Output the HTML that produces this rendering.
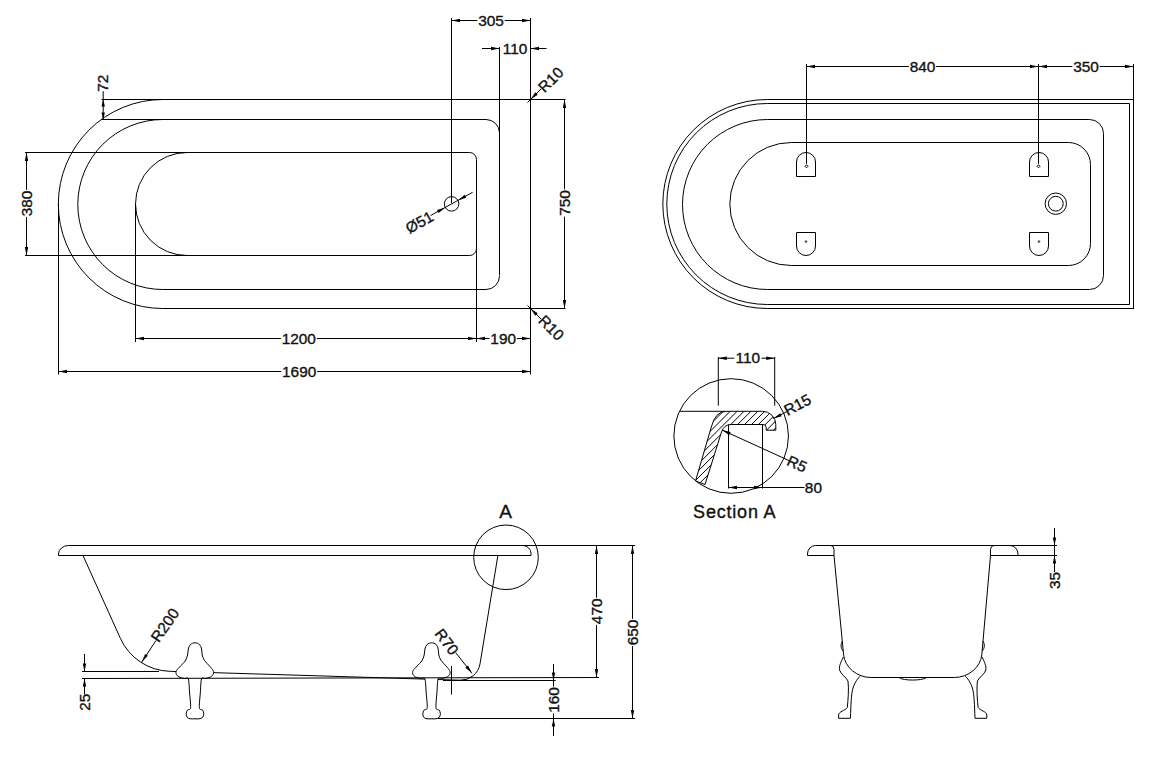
<!DOCTYPE html>
<html><head><meta charset="utf-8">
<style>
html,body{margin:0;padding:0;background:#fff;}
body{width:1157px;height:766px;overflow:hidden;}
svg{display:block;}
svg line, svg path, svg circle{stroke:#000;stroke-width:1;fill:none;}
svg path.f{fill:#000;stroke:none;}
svg text{font-family:"Liberation Sans", sans-serif;fill:#111;stroke:#111;stroke-width:0.35px;}
</style></head>
<body>
<svg width="1157" height="766" viewBox="0 0 1157 766">
<line x1="101.50" y1="99.50" x2="565.50" y2="99.50"/>
<path d="M162.8,99.5 A104.5,104.5 0 0 0 162.8,308.5" />
<line x1="162.80" y1="308.50" x2="565.50" y2="308.50"/>
<line x1="530.50" y1="18.00" x2="530.50" y2="374.50"/>
<line x1="101.50" y1="119.50" x2="486.00" y2="119.50"/>
<path d="M486,119.5 A13.5,13.5 0 0 1 499.5,133" />
<line x1="499.50" y1="47.00" x2="499.50" y2="275.50"/>
<path d="M499.5,276 A13.5,13.5 0 0 1 486,289.5" />
<line x1="162.80" y1="289.50" x2="486.00" y2="289.50"/>
<path d="M162.8,119.5 A85,85 0 0 0 162.8,289.5" />
<line x1="25.00" y1="152.50" x2="469.50" y2="152.50"/>
<path d="M469.5,152.5 A7,7 0 0 1 476.5,159.5" />
<line x1="476.50" y1="159.50" x2="476.50" y2="342.00"/>
<path d="M476.5,248.5 A7,7 0 0 1 469.5,255.5" />
<line x1="25.00" y1="255.50" x2="469.50" y2="255.50"/>
<path d="M187,152.5 A51.5,51.5 0 0 0 187,255.5" />
<line x1="135.50" y1="204.00" x2="135.50" y2="342.00"/>
<line x1="58.50" y1="204.00" x2="58.50" y2="374.50"/>
<circle cx="451.6" cy="203.9" r="7.25"/>
<line x1="451.50" y1="18.00" x2="451.50" y2="203.00"/>
<line x1="430.59" y1="215.50" x2="472.61" y2="192.30"/>
<path class="f" d="M445.25,207.40 L438.63,213.00 L436.99,210.02 Z"/>
<path class="f" d="M457.95,200.40 L464.57,194.80 L466.21,197.78 Z"/>
<text transform="translate(419.50,222.50) rotate(-28.9)" x="0" y="5.01" font-size="15.4" text-anchor="middle">&#216;51</text>
<line x1="451.50" y1="20.50" x2="477.36" y2="20.50"/>
<line x1="504.64" y1="20.50" x2="530.50" y2="20.50"/>
<path class="f" d="M451.50,20.50 L460.00,18.80 L460.00,22.20 Z"/>
<path class="f" d="M530.50,20.50 L522.00,22.20 L522.00,18.80 Z"/>
<text x="491.00" y="25.61" font-size="15.4" text-anchor="middle">305</text>
<line x1="482.00" y1="48.50" x2="499.50" y2="48.50"/>
<path class="f" d="M499.50,48.50 L491.00,50.20 L491.00,46.80 Z"/>
<line x1="546.50" y1="48.50" x2="530.50" y2="48.50"/>
<path class="f" d="M530.50,48.50 L539.00,46.80 L539.00,50.20 Z"/>
<text x="515.00" y="53.61" font-size="15.4" text-anchor="middle">110</text>
<line x1="527.50" y1="102.50" x2="531.00" y2="99.00"/>
<line x1="527.50" y1="305.50" x2="531.00" y2="309.00"/>
<line x1="530.50" y1="99.50" x2="541.00" y2="89.00"/>
<path class="f" d="M530.50,99.50 L535.31,92.29 L537.71,94.69 Z"/>
<text transform="translate(551.00,80.00) rotate(-45)" x="0" y="5.01" font-size="15.4" text-anchor="middle">R10</text>
<line x1="530.50" y1="308.50" x2="541.00" y2="319.00"/>
<path class="f" d="M530.50,308.50 L537.71,313.31 L535.31,315.71 Z"/>
<text transform="translate(551.00,328.00) rotate(45)" x="0" y="5.01" font-size="15.4" text-anchor="middle">R10</text>
<line x1="564.50" y1="99.50" x2="564.50" y2="189.36"/>
<line x1="564.50" y1="216.64" x2="564.50" y2="308.50"/>
<path class="f" d="M564.50,99.50 L566.20,108.00 L562.80,108.00 Z"/>
<path class="f" d="M564.50,308.50 L562.80,300.00 L566.20,300.00 Z"/>
<text transform="translate(564.50,203.00) rotate(-90)" x="0" y="5.01" font-size="15.4" text-anchor="middle">750</text>
<line x1="26.50" y1="152.50" x2="26.50" y2="189.86"/>
<line x1="26.50" y1="217.14" x2="26.50" y2="255.50"/>
<path class="f" d="M26.50,152.50 L28.20,161.00 L24.80,161.00 Z"/>
<path class="f" d="M26.50,255.50 L24.80,247.00 L28.20,247.00 Z"/>
<text transform="translate(26.50,203.50) rotate(-90)" x="0" y="5.01" font-size="15.4" text-anchor="middle">380</text>
<line x1="103.20" y1="91.20" x2="103.20" y2="119.50"/>
<path class="f" d="M103.20,99.50 L104.90,106.50 L101.50,106.50 Z"/>
<path class="f" d="M103.20,119.50 L101.50,112.50 L104.90,112.50 Z"/>
<text transform="translate(103.20,83.20) rotate(-90)" x="0" y="5.01" font-size="15.4" text-anchor="middle">72</text>
<line x1="135.50" y1="338.50" x2="280.88" y2="338.50"/>
<line x1="316.72" y1="338.50" x2="476.50" y2="338.50"/>
<path class="f" d="M135.50,338.50 L144.00,336.80 L144.00,340.20 Z"/>
<path class="f" d="M476.50,338.50 L468.00,340.20 L468.00,336.80 Z"/>
<text x="298.80" y="343.61" font-size="15.4" text-anchor="middle">1200</text>
<line x1="476.50" y1="338.50" x2="489.56" y2="338.50"/>
<line x1="516.84" y1="338.50" x2="530.50" y2="338.50"/>
<path class="f" d="M476.50,338.50 L485.00,336.80 L485.00,340.20 Z"/>
<path class="f" d="M530.50,338.50 L522.00,340.20 L522.00,336.80 Z"/>
<text x="503.20" y="343.61" font-size="15.4" text-anchor="middle">190</text>
<line x1="58.50" y1="371.50" x2="281.28" y2="371.50"/>
<line x1="317.12" y1="371.50" x2="530.50" y2="371.50"/>
<path class="f" d="M58.50,371.50 L67.00,369.80 L67.00,373.20 Z"/>
<path class="f" d="M530.50,371.50 L522.00,373.20 L522.00,369.80 Z"/>
<text x="299.20" y="376.61" font-size="15.4" text-anchor="middle">1690</text>
<line x1="767.30" y1="99.50" x2="1133.50" y2="99.50"/>
<path d="M767.3,99.5 A104.5,104.5 0 0 0 767.3,308.5" />
<line x1="767.30" y1="308.50" x2="1133.50" y2="308.50"/>
<line x1="1133.50" y1="64.00" x2="1133.50" y2="309.00"/>
<line x1="767.30" y1="103.50" x2="1129.50" y2="103.50"/>
<path d="M767.3,103.5 A100.5,100.5 0 0 0 767.3,304.5" />
<line x1="767.30" y1="304.50" x2="1129.50" y2="304.50"/>
<line x1="1129.50" y1="103.50" x2="1129.50" y2="304.50"/>
<path d="M767.5,119.5 L1089.5,119.5 A14,14 0 0 1 1103.5,133.5 L1103.5,275.5 A14,14 0 0 1 1089.5,289.5 L767.5,289.5 A85,85 0 0 1 767.5,119.5" />
<path d="M791.3,142.5 L1068.5,142.5 A22,22 0 0 1 1090.5,164.5 L1090.5,243.5 A22,22 0 0 1 1068.5,265.5 L791.3,265.5 A61.5,61.5 0 0 1 791.3,142.5" />
<path d="M796.50,176.5 L796.50,162 A9.5,9.5 0 0 1 815.50,162 L815.50,176.5 Z" />
<path d="M796.50,232.5 L796.50,246 A9.5,9.5 0 0 0 815.50,246 L815.50,232.5 Z" />
<path d="M806.5,164.8 L808.0,166.3 L806.5,167.8 L805.0,166.3 Z" stroke-width="0.7"/>
<path d="M806,240 L807.6,241.6 L806,243.2 L804.4,241.6 Z" style="fill:#555;stroke:none"/>
<line x1="806.50" y1="64.00" x2="806.50" y2="163.80"/>
<path d="M1029.50,176.5 L1029.50,162 A9.5,9.5 0 0 1 1048.50,162 L1048.50,176.5 Z" />
<path d="M1029.50,232.5 L1029.50,246 A9.5,9.5 0 0 0 1048.50,246 L1048.50,232.5 Z" />
<path d="M1038.5,164.8 L1040.0,166.3 L1038.5,167.8 L1037.0,166.3 Z" stroke-width="0.7"/>
<path d="M1039,240 L1040.6,241.6 L1039,243.2 L1037.4,241.6 Z" style="fill:#555;stroke:none"/>
<line x1="1038.50" y1="64.00" x2="1038.50" y2="163.80"/>
<circle cx="1055.8" cy="203.7" r="10.7"/>
<circle cx="1055.8" cy="203.7" r="7.4"/>
<line x1="806.50" y1="66.50" x2="908.86" y2="66.50"/>
<line x1="936.14" y1="66.50" x2="1038.50" y2="66.50"/>
<path class="f" d="M806.50,66.50 L815.00,64.80 L815.00,68.20 Z"/>
<path class="f" d="M1038.50,66.50 L1030.00,68.20 L1030.00,64.80 Z"/>
<text x="922.50" y="71.61" font-size="15.4" text-anchor="middle">840</text>
<line x1="1038.50" y1="66.50" x2="1072.36" y2="66.50"/>
<line x1="1099.64" y1="66.50" x2="1133.50" y2="66.50"/>
<path class="f" d="M1038.50,66.50 L1047.00,64.80 L1047.00,68.20 Z"/>
<path class="f" d="M1133.50,66.50 L1125.00,68.20 L1125.00,64.80 Z"/>
<text x="1086.00" y="71.61" font-size="15.4" text-anchor="middle">350</text>
<circle cx="731.15" cy="436" r="57.3"/>
<line x1="679.80" y1="411.30" x2="725.00" y2="411.30"/>
<clipPath id="hc"><path d="M695.5,481 L711.3,427 Q715.5,411.3 726,411.3 L762.5,411.3 A13.3,13.3 0 0 1 775.8,424.6 L775.8,430.2 L766.2,430.2 L766.2,427.5 Q766.2,424.5 763,424.5 L731,424.5 Q724,424.5 721.5,432 L705,484.5 Z"/></clipPath>
<path clip-path="url(#hc)" stroke-width="0.9" d="M-83.00,500 L37.00,380 M-76.10,500 L43.90,380 M-69.20,500 L50.80,380 M-62.30,500 L57.70,380 M-55.40,500 L64.60,380 M-48.50,500 L71.50,380 M-41.60,500 L78.40,380 M-34.70,500 L85.30,380 M-27.80,500 L92.20,380 M-20.90,500 L99.10,380 M-14.00,500 L106.00,380 M-7.10,500 L112.90,380 M-0.20,500 L119.80,380 M6.70,500 L126.70,380 M13.60,500 L133.60,380 M20.50,500 L140.50,380 M27.40,500 L147.40,380 M34.30,500 L154.30,380 M41.20,500 L161.20,380 M48.10,500 L168.10,380 M55.00,500 L175.00,380 M61.90,500 L181.90,380 M68.80,500 L188.80,380 M75.70,500 L195.70,380 M82.60,500 L202.60,380 M89.50,500 L209.50,380 M96.40,500 L216.40,380 M103.30,500 L223.30,380 M110.20,500 L230.20,380 M117.10,500 L237.10,380 M124.00,500 L244.00,380 M130.90,500 L250.90,380 M137.80,500 L257.80,380 M144.70,500 L264.70,380 M151.60,500 L271.60,380 M158.50,500 L278.50,380 M165.40,500 L285.40,380 M172.30,500 L292.30,380 M179.20,500 L299.20,380 M186.10,500 L306.10,380 M193.00,500 L313.00,380 M199.90,500 L319.90,380 M206.80,500 L326.80,380 M213.70,500 L333.70,380 M220.60,500 L340.60,380 M227.50,500 L347.50,380 M234.40,500 L354.40,380 M241.30,500 L361.30,380 M248.20,500 L368.20,380 M255.10,500 L375.10,380 M262.00,500 L382.00,380 M268.90,500 L388.90,380 M275.80,500 L395.80,380 M282.70,500 L402.70,380 M289.60,500 L409.60,380 M296.50,500 L416.50,380 M303.40,500 L423.40,380 M310.30,500 L430.30,380 M317.20,500 L437.20,380 M324.10,500 L444.10,380 M331.00,500 L451.00,380 M337.90,500 L457.90,380 M344.80,500 L464.80,380 M351.70,500 L471.70,380 M358.60,500 L478.60,380 M365.50,500 L485.50,380 M372.40,500 L492.40,380 M379.30,500 L499.30,380 M386.20,500 L506.20,380 M393.10,500 L513.10,380 M400.00,500 L520.00,380 M406.90,500 L526.90,380 M413.80,500 L533.80,380 M420.70,500 L540.70,380 M427.60,500 L547.60,380 M434.50,500 L554.50,380 M441.40,500 L561.40,380 M448.30,500 L568.30,380 M455.20,500 L575.20,380 M462.10,500 L582.10,380 M469.00,500 L589.00,380 M475.90,500 L595.90,380 M482.80,500 L602.80,380 M489.70,500 L609.70,380 M496.60,500 L616.60,380 M503.50,500 L623.50,380 M510.40,500 L630.40,380 M517.30,500 L637.30,380 M524.20,500 L644.20,380 M531.10,500 L651.10,380 M538.00,500 L658.00,380 M544.90,500 L664.90,380 M551.80,500 L671.80,380 M558.70,500 L678.70,380 M565.60,500 L685.60,380 M572.50,500 L692.50,380 M579.40,500 L699.40,380 M586.30,500 L706.30,380 M593.20,500 L713.20,380 M600.10,500 L720.10,380 M607.00,500 L727.00,380 M613.90,500 L733.90,380 M620.80,500 L740.80,380 M627.70,500 L747.70,380 M634.60,500 L754.60,380 M641.50,500 L761.50,380 M648.40,500 L768.40,380 M655.30,500 L775.30,380 M662.20,500 L782.20,380 M669.10,500 L789.10,380 M676.00,500 L796.00,380 M682.90,500 L802.90,380 M689.80,500 L809.80,380 M696.70,500 L816.70,380 M703.60,500 L823.60,380 M710.50,500 L830.50,380 M717.40,500 L837.40,380 M724.30,500 L844.30,380 M731.20,500 L851.20,380 M738.10,500 L858.10,380 M745.00,500 L865.00,380 M751.90,500 L871.90,380 M758.80,500 L878.80,380 M765.70,500 L885.70,380 M772.60,500 L892.60,380 M779.50,500 L899.50,380 M786.40,500 L906.40,380 M793.30,500 L913.30,380 M800.20,500 L920.20,380 M807.10,500 L927.10,380 M814.00,500 L934.00,380 M820.90,500 L940.90,380 M827.80,500 L947.80,380 M834.70,500 L954.70,380 M841.60,500 L961.60,380 M848.50,500 L968.50,380 M855.40,500 L975.40,380 M862.30,500 L982.30,380 M869.20,500 L989.20,380 M876.10,500 L996.10,380 M883.00,500 L1003.00,380 M889.90,500 L1009.90,380 M896.80,500 L1016.80,380 M903.70,500 L1023.70,380 M910.60,500 L1030.60,380 M917.50,500 L1037.50,380 M924.40,500 L1044.40,380 M931.30,500 L1051.30,380 M938.20,500 L1058.20,380 M945.10,500 L1065.10,380 M952.00,500 L1072.00,380 M958.90,500 L1078.90,380 M965.80,500 L1085.80,380 M972.70,500 L1092.70,380 M979.60,500 L1099.60,380 M986.50,500 L1106.50,380 M993.40,500 L1113.40,380 M1000.30,500 L1120.30,380 M1007.20,500 L1127.20,380 M1014.10,500 L1134.10,380"/>
<path d="M695.5,481 L711.3,427 Q715.5,411.3 726,411.3 L762.5,411.3 A13.3,13.3 0 0 1 775.8,424.6 L775.8,430.2 L766.2,430.2 L766.2,427.5 Q766.2,424.5 763,424.5 L731,424.5 Q724,424.5 721.5,432 L705,484.5 Z" />
<line x1="728.50" y1="424.50" x2="728.50" y2="488.50"/>
<line x1="762.50" y1="424.50" x2="762.50" y2="488.50"/>
<line x1="728.50" y1="487.50" x2="804.50" y2="487.50"/>
<path class="f" d="M728.50,487.50 L737.00,485.80 L737.00,489.20 Z"/>
<path class="f" d="M762.50,487.50 L754.00,489.20 L754.00,485.80 Z"/>
<text x="813.40" y="492.81" font-size="15.4" text-anchor="middle">80</text>
<line x1="718.30" y1="357.00" x2="718.30" y2="405.70"/>
<line x1="774.70" y1="357.00" x2="774.70" y2="405.70"/>
<line x1="718.30" y1="358.20" x2="734.16" y2="358.20"/>
<line x1="761.44" y1="358.20" x2="774.70" y2="358.20"/>
<path class="f" d="M718.30,358.20 L726.80,356.50 L726.80,359.90 Z"/>
<path class="f" d="M774.70,358.20 L766.20,359.90 L766.20,356.50 Z"/>
<text x="747.80" y="363.31" font-size="15.4" text-anchor="middle">110</text>
<line x1="773.40" y1="418.60" x2="786.72" y2="411.70"/>
<path class="f" d="M773.40,418.60 L780.16,413.18 L781.73,416.20 Z"/>
<text transform="translate(797.60,405.00) rotate(-27.4)" x="0" y="5.01" font-size="15.4" text-anchor="middle">R15</text>
<line x1="722.20" y1="430.10" x2="789.30" y2="460.70"/>
<path class="f" d="M722.20,430.10 L730.64,432.08 L729.23,435.17 Z"/>
<text transform="translate(796.90,464.20) rotate(24.5)" x="0" y="5.01" font-size="15.4" text-anchor="middle">R5</text>
<text x="693.1" y="517.5" font-size="18" letter-spacing="0.8">Section A</text>
<path d="M58.5,555.5 L58.5,554 A10,8.5 0 0 1 68.5,545.5 L635,545.5" />
<line x1="58.50" y1="555.50" x2="531.00" y2="555.50"/>
<path d="M522.7,545.5 A8.3,8 0 0 1 531,553.5 L531,555.5" />
<path d="M83,555.5 L120.4,638.4 A56,56 0 0 0 169.7,671.3 L460.2,680.2 A19.5,19.5 0 0 0 480,663.9 L497.9,555.5" />
<line x1="82.00" y1="671.50" x2="159.00" y2="671.50"/>
<line x1="443.00" y1="680.50" x2="555.70" y2="680.50"/>
<line x1="426.00" y1="718.50" x2="635.00" y2="718.50"/>
<path d="M195.00,642.80 C196.50,642.80 198.40,643.47 199.50,644.50 C200.60,645.53 201.15,647.25 201.60,649.00 C202.05,650.75 201.72,653.08 202.20,655.00 C202.68,656.92 203.28,658.67 204.50,660.50 C205.72,662.33 208.08,664.33 209.50,666.00 C210.92,667.67 212.37,669.17 213.00,670.50 C213.63,671.83 213.72,672.92 213.30,674.00 C212.88,675.08 211.88,676.25 210.50,677.00 C209.12,677.75 206.50,678.17 205.00,678.50 C203.50,678.83 202.28,676.58 201.50,679.00 C200.72,681.42 200.65,688.20 200.30,693.00 C199.95,697.80 199.03,704.97 199.40,707.80 C199.77,710.63 201.77,709.00 202.50,710.00 C203.23,711.00 203.80,712.55 203.80,713.80 C203.80,715.05 203.30,716.67 202.50,717.50 C201.70,718.33 200.25,718.58 199.00,718.80 C197.75,719.02 196.42,718.80 195.00,718.80 C193.58,718.80 191.78,719.02 190.50,718.80 C189.22,718.58 188.02,718.33 187.30,717.50 C186.58,716.67 186.17,715.05 186.20,713.80 C186.23,712.55 186.77,711.00 187.50,710.00 C188.23,709.00 190.25,710.63 190.60,707.80 C190.95,704.97 189.98,697.80 189.60,693.00 C189.22,688.20 189.15,681.42 188.30,679.00 C187.45,676.58 186.05,678.83 184.50,678.50 C182.95,678.17 180.38,677.75 179.00,677.00 C177.62,676.25 176.60,675.08 176.20,674.00 C175.80,672.92 175.88,671.83 176.60,670.50 C177.32,669.17 179.07,667.58 180.50,666.00 C181.93,664.42 184.02,662.83 185.20,661.00 C186.38,659.17 187.08,657.00 187.60,655.00 C188.12,653.00 187.82,650.75 188.30,649.00 C188.78,647.25 189.38,645.53 190.50,644.50 C191.62,643.47 193.50,642.80 195.00,642.80 Z" style="fill:#fff"/>
<path d="M431.60,642.80 C433.10,642.80 435.00,643.47 436.10,644.50 C437.20,645.53 437.75,647.25 438.20,649.00 C438.65,650.75 438.32,653.08 438.80,655.00 C439.28,656.92 439.88,658.67 441.10,660.50 C442.32,662.33 444.68,664.33 446.10,666.00 C447.52,667.67 448.97,669.17 449.60,670.50 C450.23,671.83 450.32,672.92 449.90,674.00 C449.48,675.08 448.48,676.25 447.10,677.00 C445.72,677.75 443.10,678.17 441.60,678.50 C440.10,678.83 438.88,676.58 438.10,679.00 C437.32,681.42 437.25,688.20 436.90,693.00 C436.55,697.80 435.63,704.97 436.00,707.80 C436.37,710.63 438.37,709.00 439.10,710.00 C439.83,711.00 440.40,712.55 440.40,713.80 C440.40,715.05 439.90,716.67 439.10,717.50 C438.30,718.33 436.85,718.58 435.60,718.80 C434.35,719.02 433.02,718.80 431.60,718.80 C430.18,718.80 428.38,719.02 427.10,718.80 C425.82,718.58 424.62,718.33 423.90,717.50 C423.18,716.67 422.77,715.05 422.80,713.80 C422.83,712.55 423.37,711.00 424.10,710.00 C424.83,709.00 426.85,710.63 427.20,707.80 C427.55,704.97 426.58,697.80 426.20,693.00 C425.82,688.20 425.75,681.42 424.90,679.00 C424.05,676.58 422.65,678.83 421.10,678.50 C419.55,678.17 416.98,677.75 415.60,677.00 C414.22,676.25 413.20,675.08 412.80,674.00 C412.40,672.92 412.48,671.83 413.20,670.50 C413.92,669.17 415.67,667.58 417.10,666.00 C418.53,664.42 420.62,662.83 421.80,661.00 C422.98,659.17 423.68,657.00 424.20,655.00 C424.72,653.00 424.42,650.75 424.90,649.00 C425.38,647.25 425.98,645.53 427.10,644.50 C428.22,643.47 430.10,642.80 431.60,642.80 Z" style="fill:#fff"/>
<line x1="82.00" y1="678.50" x2="599.00" y2="677.50"/>
<circle cx="506" cy="557.3" r="32.3"/>
<text x="505.70" y="518.40" font-size="19" text-anchor="middle">A</text>
<line x1="596.50" y1="545.50" x2="596.50" y2="597.66"/>
<line x1="596.50" y1="624.94" x2="596.50" y2="677.50"/>
<path class="f" d="M596.50,545.50 L598.20,554.00 L594.80,554.00 Z"/>
<path class="f" d="M596.50,677.50 L594.80,669.00 L598.20,669.00 Z"/>
<text transform="translate(596.50,611.30) rotate(-90)" x="0" y="5.01" font-size="15.4" text-anchor="middle">470</text>
<line x1="632.50" y1="545.50" x2="632.50" y2="618.86"/>
<line x1="632.50" y1="646.14" x2="632.50" y2="718.50"/>
<path class="f" d="M632.50,545.50 L634.20,554.00 L630.80,554.00 Z"/>
<path class="f" d="M632.50,718.50 L630.80,710.00 L634.20,710.00 Z"/>
<text transform="translate(632.50,632.50) rotate(-90)" x="0" y="5.01" font-size="15.4" text-anchor="middle">650</text>
<line x1="553.50" y1="664.00" x2="553.50" y2="680.50"/>
<path class="f" d="M553.50,680.50 L551.80,672.50 L555.20,672.50 Z"/>
<line x1="553.50" y1="736.00" x2="553.50" y2="718.50"/>
<path class="f" d="M553.50,718.50 L555.20,726.50 L551.80,726.50 Z"/>
<text transform="translate(553.50,700.00) rotate(-90)" x="0" y="5.01" font-size="15.4" text-anchor="middle">160</text>
<line x1="553.50" y1="680.50" x2="553.50" y2="686.50"/>
<line x1="553.50" y1="713.50" x2="553.50" y2="718.50"/>
<line x1="84.50" y1="654.00" x2="84.50" y2="671.50"/>
<path class="f" d="M84.50,671.50 L82.80,663.50 L86.20,663.50 Z"/>
<line x1="84.50" y1="694.50" x2="84.50" y2="678.50"/>
<path class="f" d="M84.50,678.50 L86.20,686.50 L82.80,686.50 Z"/>
<text transform="translate(84.50,702.30) rotate(-90)" x="0" y="5.01" font-size="15.4" text-anchor="middle">25</text>
<line x1="141.80" y1="662.00" x2="156.00" y2="640.50"/>
<path class="f" d="M141.80,662.00 L145.07,653.97 L147.90,655.84 Z"/>
<text transform="translate(165.30,625.30) rotate(-55)" x="0" y="5.01" font-size="15.4" text-anchor="middle">R200</text>
<line x1="455.80" y1="652.80" x2="472.00" y2="673.30"/>
<path class="f" d="M472.00,673.30 L465.40,667.69 L468.06,665.58 Z"/>
<text transform="translate(446.50,642.00) rotate(53)" x="0" y="5.01" font-size="15.4" text-anchor="middle">R70</text>
<line x1="451.50" y1="666.00" x2="451.50" y2="694.60"/>
<path d="M807.5,555.5 L807.5,554 A8,8.5 0 0 1 815.5,545.5 L1057,545.5" />
<path d="M830.5,545.5 A3.5,4 0 0 1 834,549.5 L834,555.5" />
<line x1="807.50" y1="555.50" x2="834.00" y2="555.50"/>
<path d="M994,545.5 A3.5,4 0 0 0 990.5,549.5 L990.5,555.5" />
<path d="M1018,555.5 L1018,554 A8,8.5 0 0 0 1010,545.5" />
<line x1="990.50" y1="555.50" x2="1057.00" y2="555.50"/>
<path d="M834,555.5 L843.6,654.8 C844.85,667.45 857.15,677.5 870.9,677.5 L954.5,677.5 C968.25,677.5 980.55,667.45 981.8,654.8 L990.5,555.5" />
<path d="M899.5,677.8 C903,680.8 922,680.8 926,677.8" />
<path d="M843.3,657 C841,662 838.8,666 839.6,670 C840.5,674 846,677 848,681 C849,690 848,700 847.3,707.5 C845,711 839,711 838.6,715 L838.6,718.3 L850.4,718.3 C851,705 851,695 853,688 C855,682 858,678 860.3,676" />
<path d="M842.5,641 C840.5,644 840.5,648 843.2,651" />
<path d="M982.1000000000001,657 C984.4000000000001,662 986.6000000000001,666 985.8000000000001,670 C984.9000000000001,674 979.4000000000001,677 977.4000000000001,681 C976.4000000000001,690 977.4000000000001,700 978.1000000000001,707.5 C980.4000000000001,711 986.4000000000001,711 986.8000000000001,715 L986.8000000000001,718.3 L975.0000000000001,718.3 C974.4000000000001,705 974.4000000000001,695 972.4000000000001,688 C970.4000000000001,682 967.4000000000001,678 965.1000000000001,676" />
<path d="M982.9000000000001,641 C984.9000000000001,644 984.9000000000001,648 982.2,651" />
<line x1="1054.50" y1="528.00" x2="1054.50" y2="545.50"/>
<path class="f" d="M1054.50,545.50 L1052.80,537.50 L1056.20,537.50 Z"/>
<line x1="1054.50" y1="572.00" x2="1054.50" y2="555.50"/>
<path class="f" d="M1054.50,555.50 L1056.20,563.50 L1052.80,563.50 Z"/>
<text transform="translate(1055.00,580.50) rotate(-90)" x="0" y="5.01" font-size="15.4" text-anchor="middle">35</text>
<line x1="1054.50" y1="545.50" x2="1054.50" y2="555.50"/>
</svg>
</body></html>
